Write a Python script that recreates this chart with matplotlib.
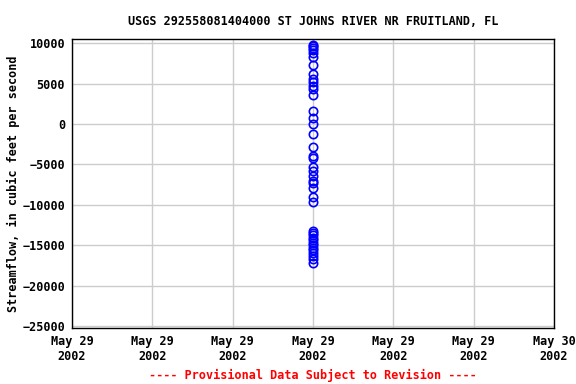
# USGS streamflow chart, St Johns River nr Fruitland FL
import datetime as dt
import matplotlib
matplotlib.use("Agg")
import matplotlib.pyplot as plt
import matplotlib.dates as mdates

obs_time = dt.datetime(2002, 5, 29, 12, 0)
flow = [9800, 9600, 9400, 9100, 8800, 8300, 7300, 6200, 5600, 5200, 4700, 4300, 3600,
        1600, 800, 0, -1200, -2800, -4000, -4200, -5300, -5800, -6400, -7100, -7300,
        -7900, -9100, -9600,
        -13200, -13500, -13800, -14100, -14400, -14700, -15000, -15300, -15600,
        -16000, -16400, -16700, -17200]
times = [obs_time] * len(flow)
yticks = [10000, 5000, 0, -5000, -10000, -15000, -20000, -25000]

plt.rcParams['font.family'] = ['DejaVu Sans Mono']
plt.rcParams['font.weight'] = 'bold'
plt.rcParams['font.size'] = 8.5

fig = plt.figure(figsize=(5.76, 3.84), dpi=100)
ax = fig.add_axes([0.125, 0.146, 0.837, 0.752])

ax.plot(times, flow, linestyle='none', marker='o', markersize=6,
        markerfacecolor='none', markeredgecolor='blue', markeredgewidth=1.2)

ax.set_xlim(dt.datetime(2002, 5, 29), dt.datetime(2002, 5, 30))
ax.xaxis.set_major_locator(mdates.HourLocator(byhour=[0, 4, 8, 12, 16, 20]))
ax.xaxis.set_major_formatter(mdates.DateFormatter('%b %d\n%Y'))
ax.set_ylim(-25250, 10500)
ax.set_yticks(yticks)
ax.grid(True, color='#cccccc', linewidth=1)
ax.set_axisbelow(True)
for s in ax.spines.values():
    s.set_color('black')
    s.set_linewidth(1)
ax.tick_params(length=0, pad=5, colors='black')

ax.set_title("USGS 292558081404000 ST JOHNS RIVER NR FRUITLAND, FL", pad=10,
             fontweight='bold', fontsize=8.5)
ax.set_ylabel("Streamflow, in cubic feet per second", fontweight='bold', labelpad=2)
fig.text(0.543, 0.023, "---- Provisional Data Subject to Revision ----",
         color='red', ha='center', va='center', fontweight='bold', fontsize=8.5)

fig.savefig("out.png", dpi=100)
